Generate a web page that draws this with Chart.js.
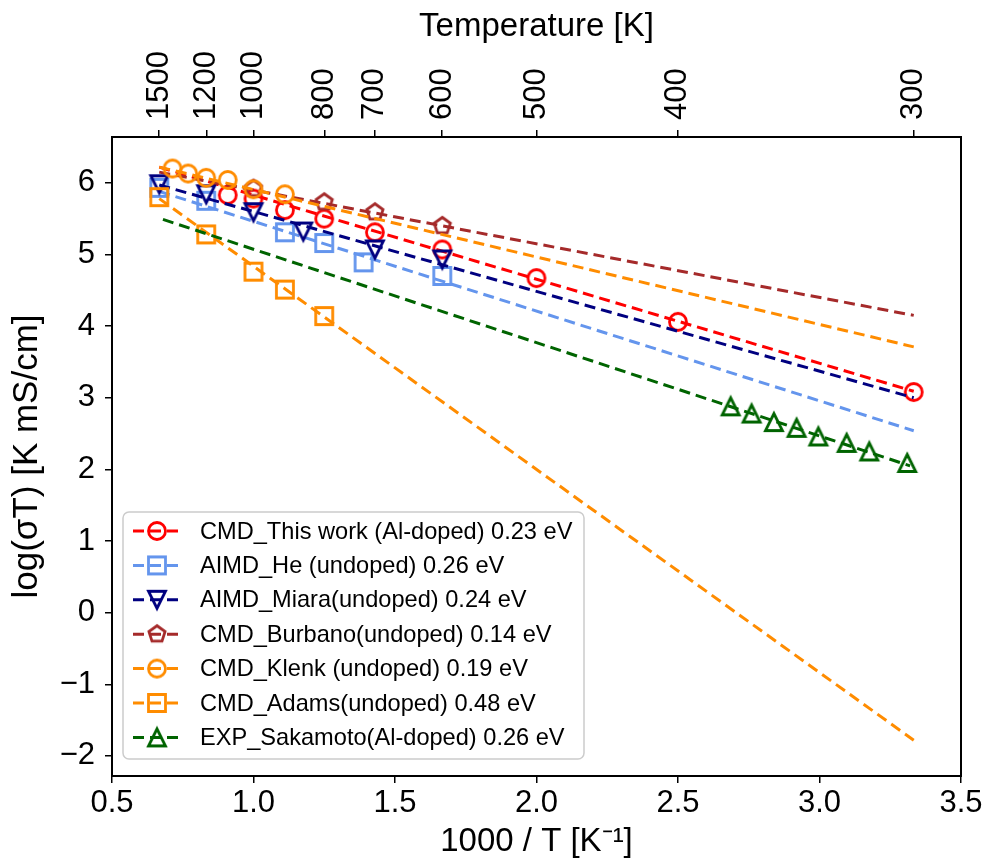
<!DOCTYPE html>
<html>
<head>
<meta charset="utf-8">
<script src="https://cdn.jsdelivr.net/npm/chart.js@4.4.1/dist/chart.umd.min.js"></script>
<style>
  html, body { margin: 0; padding: 0; background: #fff; }
  canvas { display: block; }
</style>
</head>
<body>
<canvas id="grafico" width="987" height="863"></canvas>
<script>
// Dados (x = 1000/T, y = log(sigma*T))
const fitX = [0.667, 3.333];

const thisWorkX = [0.909, 1.0, 1.111, 1.25, 1.429, 1.667, 2.0, 2.5, 3.333];
const thisWorkY = [5.83, 5.78, 5.62, 5.50, 5.31, 5.07, 4.67, 4.06, 3.08];
const thisWorkFit = [6.22, 3.09];

const heX = [0.667, 0.833, 1.111, 1.25, 1.389, 1.667];
const heY = [5.93, 5.75, 5.31, 5.16, 4.89, 4.70];
const heFit = [5.88, 2.54];

const miaraX = [0.667, 0.833, 1.0, 1.176, 1.429, 1.667];
const miaraY = [5.98, 5.84, 5.59, 5.32, 5.07, 4.93];
const miaraFit = [5.97, 3.00];

const burbanoX = [1.0, 1.25, 1.429, 1.667];
const burbanoY = [5.92, 5.73, 5.59, 5.40];
const burbanoFit = [6.15, 4.15];

const klenkX = [0.714, 0.769, 0.833, 0.909, 1.0, 1.111];
const klenkY = [6.20, 6.13, 6.07, 6.04, 5.91, 5.84];
const klenkFit = [6.22, 3.71];

const adamsX = [0.667, 0.833, 1.0, 1.111, 1.25];
const adamsY = [5.80, 5.28, 4.76, 4.51, 4.14];
const adamsFit = [5.78, -1.78];

const sakamotoX = [2.686, 2.76, 2.839, 2.919, 2.996, 3.096, 3.176, 3.31];
const sakamotoY = [2.88, 2.78, 2.66, 2.58, 2.46, 2.37, 2.25, 2.09];
const sakamotoFitX = [0.68, 3.32];
const sakamotoFit = [5.49, 2.05];

// Ticks do eixo superior (temperatura em K)
const tempTicks = [1500, 1200, 1000, 800, 700, 600, 500, 400, 300];

const fonte = "'Liberation Sans', Arial, sans-serif";

// Marcadores vazados no estilo do matplotlib
function criarMarcador(forma, cor) {
  const ms = 17, lw = 2.8, tam = 28;
  const c = document.createElement("canvas");
  c.width = tam;
  c.height = tam;
  const g = c.getContext("2d");
  g.strokeStyle = cor;
  g.lineWidth = lw;
  const m = tam / 2, r = ms / 2;
  g.beginPath();
  if (forma === "circle") {
    g.arc(m, m, r, 0, 2 * Math.PI);
  } else if (forma === "square") {
    g.rect(m - r, m - r, ms, ms);
  } else if (forma === "triUp") {
    g.moveTo(m, m - r); g.lineTo(m + r, m + r); g.lineTo(m - r, m + r); g.closePath();
  } else if (forma === "triDown") {
    g.moveTo(m, m + r); g.lineTo(m + r, m - r); g.lineTo(m - r, m - r); g.closePath();
  } else if (forma === "pentagon") {
    for (let i = 0; i < 5; i++) {
      const a = -Math.PI / 2 + i * 2 * Math.PI / 5;
      const px = m + r * Math.cos(a), py = m + r * Math.sin(a);
      if (i === 0) g.moveTo(px, py); else g.lineTo(px, py);
    }
    g.closePath();
  }
  g.stroke();
  return c;
}

const series = [
  { label: "CMD_This work (Al-doped) 0.23 eV", cor: "#ff0000", forma: "circle", x: thisWorkX, y: thisWorkY, fx: fitX, fy: thisWorkFit },
  { label: "AIMD_He (undoped) 0.26 eV", cor: "#6495ed", forma: "square", x: heX, y: heY, fx: fitX, fy: heFit },
  { label: "AIMD_Miara(undoped) 0.24 eV", cor: "#000080", forma: "triDown", x: miaraX, y: miaraY, fx: fitX, fy: miaraFit },
  { label: "CMD_Burbano(undoped) 0.14 eV", cor: "#a52a2a", forma: "pentagon", x: burbanoX, y: burbanoY, fx: fitX, fy: burbanoFit },
  { label: "CMD_Klenk (undoped) 0.19 eV", cor: "#ff8c00", forma: "circle", x: klenkX, y: klenkY, fx: fitX, fy: klenkFit },
  { label: "CMD_Adams(undoped) 0.48 eV", cor: "#ff8c00", forma: "square", x: adamsX, y: adamsY, fx: fitX, fy: adamsFit },
  { label: "EXP_Sakamoto(Al-doped) 0.26 eV", cor: "#006400", forma: "triUp", x: sakamotoX, y: sakamotoY, fx: sakamotoFitX, fy: sakamotoFit }
];

const pontos = (xs, ys) => xs.map((v, i) => ({ x: v, y: ys[i] }));
const N = series.length;
const datasets = [];
series.forEach((s, i) => {
  s.marcador = criarMarcador(s.forma, s.cor);
  datasets.push({
    data: pontos(s.fx, s.fy),
    showLine: true,
    borderColor: s.cor,
    borderWidth: 3,
    borderDash: [11, 6],
    pointRadius: 0,
    fill: false,
    order: (N - i) * 2
  });
  datasets.push({
    data: pontos(s.x, s.y),
    showLine: false,
    pointStyle: s.marcador,
    pointRadius: 9,
    borderColor: s.cor,
    backgroundColor: "rgba(0,0,0,0)",
    order: (N - i) * 2 - 1
  });
});

// Legenda desenhada à mão (linha tracejada + marcador)
const legendaPlugin = {
  id: "legendaManual",
  afterDraw(chart) {
    const ctx = chart.ctx;
    const x0 = 123, y0 = 512, w = 461, h = 247;
    ctx.save();
    ctx.beginPath();
    ctx.roundRect(x0, y0, w, h, 6);
    ctx.fillStyle = "rgba(255,255,255,0.8)";
    ctx.fill();
    ctx.strokeStyle = "#cccccc";
    ctx.lineWidth = 1.5;
    ctx.stroke();
    ctx.font = "23.6px " + fonte;
    ctx.textBaseline = "middle";
    ctx.textAlign = "left";
    series.forEach((s, i) => {
      const yy = 531 + i * 34.4;
      ctx.beginPath();
      ctx.setLineDash([11, 6]);
      ctx.strokeStyle = s.cor;
      ctx.lineWidth = 3;
      ctx.moveTo(133, yy);
      ctx.lineTo(180, yy);
      ctx.stroke();
      ctx.setLineDash([]);
      ctx.drawImage(s.marcador, 157 - s.marcador.width / 2, yy - s.marcador.height / 2);
      ctx.fillStyle = "#000";
      ctx.fillText(s.label, 200, yy + 1);
    });
    ctx.restore();
  }
};

const eixoGrid = { drawOnChartArea: false, drawTicks: true, tickLength: 7, color: "#000", lineWidth: 1.5 };
const eixoBorda = { display: true, color: "#000", width: 2 };

new Chart(document.getElementById("grafico"), {
  type: "scatter",
  data: { datasets },
  options: {
    responsive: false,
    animation: false,
    events: [],
    layout: { padding: 0 },
    plugins: { legend: { display: false }, tooltip: { enabled: false } },
    scales: {
      x: {
        type: "linear",
        position: "bottom",
        min: 0.5,
        max: 3.5,
        grid: eixoGrid,
        border: eixoBorda,
        ticks: {
          stepSize: 0.5,
          autoSkip: false,
          maxRotation: 0,
          padding: 2,
          color: "#000",
          font: { family: fonte, size: 31 },
          callback: v => v.toFixed(1)
        },
        title: {
          display: true,
          text: "1000 / T [K\u207B\u00B9]",
          color: "#000",
          font: { family: fonte, size: 33 },
          padding: { top: 0, bottom: 1 }
        },
        afterFit: s => { s.height = 87; }
      },
      xTop: {
        type: "linear",
        position: "top",
        min: 0.5,
        max: 3.5,
        grid: eixoGrid,
        border: eixoBorda,
        afterBuildTicks: s => { s.ticks = tempTicks.map(t => ({ value: 1000 / t })); },
        ticks: {
          autoSkip: false,
          minRotation: 90,
          maxRotation: 90,
          padding: 10,
          labelOffset: 37,
          color: "#000",
          font: { family: fonte, size: 31 },
          callback: v => String(Math.round(1000 / v))
        },
        title: {
          display: true,
          text: "Temperature [K]",
          color: "#000",
          font: { family: fonte, size: 33 },
          padding: { top: 7, bottom: 0 }
        },
        afterFit: s => { s.height = 137; }
      },
      y: {
        type: "linear",
        position: "left",
        min: -2.28,
        max: 6.64,
        grid: eixoGrid,
        border: eixoBorda,
        ticks: {
          stepSize: 1,
          includeBounds: false,
          padding: 10,
          color: "#000",
          font: { family: fonte, size: 31 },
          callback: v => (v < 0 ? "\u2212" + Math.abs(v) : String(v))
        },
        title: {
          display: true,
          text: "log(\u03C3T) [K mS/cm]",
          color: "#000",
          font: { family: fonte, size: 35 },
          padding: { top: 6, bottom: 0 }
        },
        afterFit: s => { s.width = 112; }
      },
      yRight: {
        type: "linear",
        position: "right",
        min: -2.28,
        max: 6.64,
        grid: { drawOnChartArea: false, drawTicks: false },
        border: eixoBorda,
        ticks: { display: false },
        afterFit: s => { s.width = 26; }
      }
    }
  },
  plugins: [legendaPlugin]
});
</script>
</body>
</html>
